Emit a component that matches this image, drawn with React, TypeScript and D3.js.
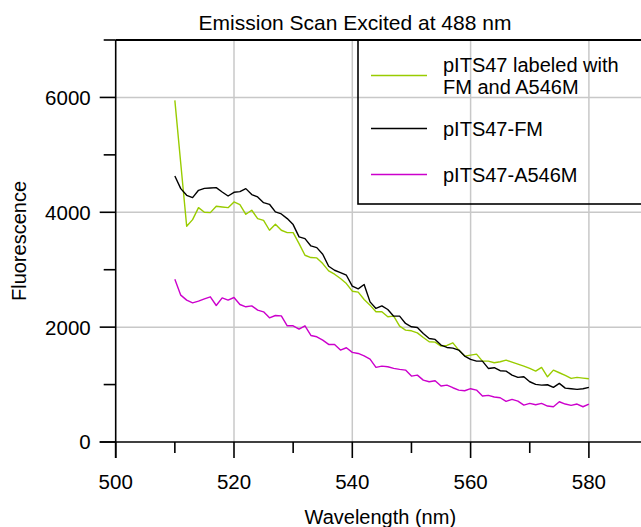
import React from "react";
import * as d3 from "d3";

const wavelengths = [
  510, 511, 512, 513, 514, 515, 516, 517, 518, 519, 520, 521, 522, 523, 524, 525, 526, 527, 528, 529,
  530, 531, 532, 533, 534, 535, 536, 537, 538, 539, 540, 541, 542, 543, 544, 545, 546, 547, 548, 549,
  550, 551, 552, 553, 554, 555, 556, 557, 558, 559, 560, 561, 562, 563, 564, 565, 566, 567, 568, 569,
  570, 571, 572, 573, 574, 575, 576, 577, 578, 579, 580,
];

const bothLabeled = [
  5948, 4850, 3757, 3872, 4081, 4000, 3994, 4104, 4093, 4081, 4180, 4133, 3965, 4035, 3890, 3860, 3687, 3791, 3687, 3646,
  3646, 3455, 3252, 3212, 3206, 3107, 2980, 2922, 2846, 2759, 2626, 2610, 2481, 2383, 2267, 2267, 2180, 2191, 2017, 1948,
  1936, 1901, 1820, 1745, 1739, 1670, 1681, 1727, 1600, 1496, 1513, 1530, 1409, 1409, 1380, 1397, 1426, 1391, 1357, 1322,
  1281, 1235, 1299, 1136, 1252, 1206, 1159, 1107, 1125, 1113, 1101,
];

const fmOnly = [
  4632, 4412, 4296, 4255, 4383, 4417, 4423, 4429, 4354, 4284, 4348, 4360, 4412, 4308, 4267, 4168, 4139, 4006, 3971, 3890,
  3786, 3571, 3542, 3414, 3385, 3270, 3061, 2991, 2951, 2904, 2713, 2667, 2742, 2440, 2325, 2371, 2307, 2191, 2191, 2064,
  2006, 1994, 1890, 1803, 1786, 1687, 1646, 1635, 1600, 1496, 1438, 1409, 1409, 1281, 1293, 1241, 1235, 1165, 1125, 1136,
  1049, 1003, 991, 997, 951, 1020, 939, 927, 916, 927, 951,
];

const a546Only = [
  2835, 2557, 2470, 2423, 2452, 2493, 2528, 2377, 2510, 2470, 2516, 2394, 2354, 2371, 2296, 2267, 2162, 2203, 2197, 2023,
  2023, 1965, 2023, 1855, 1832, 1774, 1699, 1699, 1600, 1641, 1560, 1542, 1501, 1443, 1299, 1322, 1310, 1281, 1264, 1252,
  1148, 1165, 1078, 1049, 1067, 974, 991, 945, 904, 893, 928, 904, 800, 812, 783, 771, 707, 742, 713, 643,
  672, 649, 672, 626, 614, 701, 661, 638, 661, 614, 661,
];

const seriesNames = [["pITS47 labeled with", "FM and A546M"], ["pITS47-FM"], ["pITS47-A546M"]];
const seriesColors = ["#99cc00", "#000000", "#cc00cc"];
const seriesValues = [bothLabeled, fmOnly, a546Only];

const xMajorTicks = [500, 520, 540, 560, 580];
const xMinorTicks = [510, 530, 550, 570, 590];
const yMajorTicks = [0, 2000, 4000, 6000];
const yMinorTicks = [1000, 3000, 5000, 7000];
const xGrid = [520, 540, 560, 580];
const yGrid = [2000, 4000, 6000];

const title = "Emission Scan Excited at 488 nm";
const xTitle = "Wavelength (nm)";
const yTitle = "Fluorescence";

export default function App() {
  const W = 641;
  const H = 527;
  const left = 115.7;
  const top = 40;
  const bottom = 442;
  const x = d3.scaleLinear().domain([500, 590]).range([left, left + 90 * 5.915]);
  const y = d3.scaleLinear().domain([0, 7000]).range([bottom, top]);
  const font = "'Liberation Sans', Arial, sans-serif";
  const gridColor = "#c8c8c8";

  const line = (vals: number[]) =>
    d3
      .line<number>()
      .x((_, i) => x(wavelengths[i]))
      .y((d) => y(d))(vals) || "";

  const legendX = 358;
  const legendLineX1 = 371;
  const legendLineX2 = 427;
  const legendTextX = 443;
  const legendRowsY = [75.5, 128.5, 174.5];

  return (
    <svg
      width={W}
      height={H}
      style={{ position: "absolute", left: 0, top: 0, background: "#fff" }}
      fontFamily={font}
    >
      <rect x={0} y={0} width={W} height={H} fill="#fff" />
      {/* grid */}
      {xGrid.map((t) => (
        <line key={"gx" + t} x1={x(t)} x2={x(t)} y1={top} y2={bottom} stroke={gridColor} strokeWidth={1.5} />
      ))}
      {yGrid.map((t) => (
        <line key={"gy" + t} x1={left} x2={W} y1={y(t)} y2={y(t)} stroke={gridColor} strokeWidth={1.5} />
      ))}

      {/* data */}
      {seriesValues.map((vals, i) => (
        <path key={"s" + i} d={line(vals)} fill="none" stroke={seriesColors[i]} strokeWidth={1.4} strokeLinejoin="round" />
      ))}

      {/* top frame */}
      <line x1={left} x2={W} y1={top} y2={top} stroke="#000" strokeWidth={2} />

      {/* axes */}
      <line x1={left} x2={left} y1={top} y2={bottom + 16} stroke="#000" strokeWidth={1.6} />
      <line x1={left - 16} x2={W} y1={bottom} y2={bottom} stroke="#000" strokeWidth={1.6} />
      {yMajorTicks.map((t) => (
        <g key={"ym" + t}>
          <line x1={left - 16} x2={left} y1={y(t)} y2={y(t)} stroke="#000" strokeWidth={1.6} />
          <text x={left - 25} y={y(t)} dy="0.36em" textAnchor="end" fontSize={20.5} fill="#000">
            {t}
          </text>
        </g>
      ))}
      {yMinorTicks.map((t) => (
        <line key={"yn" + t} x1={left - 12} x2={left} y1={y(t)} y2={y(t)} stroke="#000" strokeWidth={1.6} />
      ))}
      {xMajorTicks.map((t) => (
        <g key={"xm" + t}>
          <line x1={x(t)} x2={x(t)} y1={bottom} y2={bottom + 16} stroke="#000" strokeWidth={1.6} />
          <text x={x(t)} y={489} textAnchor="middle" fontSize={20.5} fill="#000">
            {t}
          </text>
        </g>
      ))}
      {xMinorTicks.map((t) => (
        <line key={"xn" + t} x1={x(t)} x2={x(t)} y1={bottom} y2={bottom + 11} stroke="#000" strokeWidth={1.6} />
      ))}

      {/* titles */}
      <text x={355} y={30} textAnchor="middle" fontSize={21} fill="#000">
        {title}
      </text>
      <text x={(x(500) + x(580)) / 2 + 28} y={524} textAnchor="middle" fontSize={20} fill="#000">
        {xTitle}
      </text>
      <text
        transform={`translate(26, 241) rotate(-90)`}
        textAnchor="middle"
        fontSize={20}
        fill="#000"
      >
        {yTitle}
      </text>

      {/* legend */}
      <rect x={legendX} y={top} width={400} height={164} fill="none" stroke="#000" strokeWidth={1.6} />
      {seriesNames.map((lines, i) => (
        <g key={"lg" + i}>
          <line
            x1={legendLineX1}
            x2={legendLineX2}
            y1={legendRowsY[i]}
            y2={legendRowsY[i]}
            stroke={seriesColors[i]}
            strokeWidth={1.6}
          />
          {lines.map((s, j) => (
            <text
              key={j}
              x={legendTextX}
              y={legendRowsY[i] + (j - (lines.length - 1) / 2) * 22}
              dy="0.36em"
              fontSize={20}
              fill="#000"
            >
              {s}
            </text>
          ))}
        </g>
      ))}
    </svg>
  );
}
